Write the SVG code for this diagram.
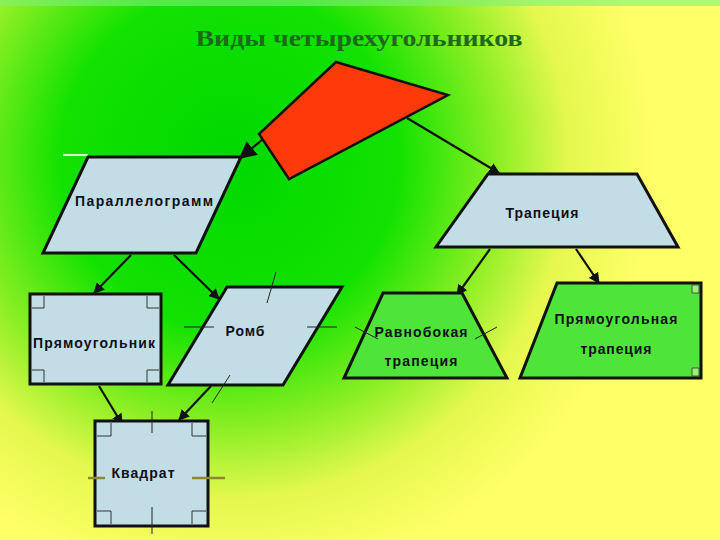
<svg xmlns="http://www.w3.org/2000/svg" width="720" height="540" viewBox="0 0 720 540">
  <defs>
    <radialGradient id="bg" cx="230" cy="160" r="470" gradientUnits="userSpaceOnUse">
      <stop offset="0" stop-color="#00d800"/>
      <stop offset="0.36" stop-color="#12e200"/>
      <stop offset="0.56" stop-color="#86ee22"/>
      <stop offset="0.72" stop-color="#e4f84e"/>
      <stop offset="0.9" stop-color="#ffff66"/>
    </radialGradient>
    <marker id="arr" viewBox="0 0 10 10" refX="9" refY="5" markerWidth="5" markerHeight="5" orient="auto" markerUnits="strokeWidth">
      <path d="M0,0 L10,5 L0,10 z" fill="#111"/>
    </marker>
    <marker id="arrT" viewBox="0 0 10 10" refX="9" refY="5" markerWidth="8" markerHeight="8" orient="auto" markerUnits="strokeWidth">
      <path d="M0,0 L10,5 L0,10 z" fill="#111"/>
    </marker>
  </defs>
  <style>
    .blue { fill: #c3dde6; stroke: #111; stroke-width: 3; }
    .green { fill: #4fe43a; stroke: #111; stroke-width: 3; }
    .corner { fill: none; stroke: #333; stroke-width: 1; }
    .tick { stroke: #222; stroke-width: 1; }
    .olive { stroke: #8c8a30; stroke-width: 2.5; }
    .lbl { font-family: "Liberation Sans", Arial, sans-serif; font-weight: bold; font-size: 14px; fill: #101018; text-anchor: middle; }
    .con { stroke: #111; stroke-width: 2.2; fill: none; }
  </style>
  <rect width="720" height="540" fill="url(#bg)"/>
  <rect width="720" height="6" fill="#7ef07a" opacity="0.6"/>
  <text x="359" y="46" font-family="'Liberation Serif', 'Times New Roman', serif" font-weight="bold" font-size="23" fill="#1d6a1d" text-anchor="middle" textLength="327" lengthAdjust="spacingAndGlyphs">Виды четырехугольников</text>

  <g id="connectors">
    <line class="con" x1="262" y1="140" x2="240" y2="158" stroke-width="1.5" marker-end="url(#arrT)"/>
    <line class="con" x1="407" y1="118" x2="499" y2="173" stroke-width="3" marker-end="url(#arr)"/>
    <line class="con" x1="131" y1="255" x2="94" y2="293" marker-end="url(#arr)"/>
    <line class="con" x1="174" y1="255" x2="219" y2="299" marker-end="url(#arr)"/>
    <line class="con" x1="99" y1="386" x2="122" y2="424" marker-end="url(#arr)"/>
    <line class="con" x1="211" y1="386" x2="179" y2="420" marker-end="url(#arr)"/>
    <line class="con" x1="490" y1="249" x2="457" y2="295" marker-end="url(#arr)"/>
    <line class="con" x1="576" y1="249" x2="599" y2="283" marker-end="url(#arr)"/>
  </g>

  <g id="quad">
    <polygon points="336,62 448,95 289,179 259,134" fill="#ff3a0a" stroke="#111" stroke-width="2.5"/>
  </g>

  <g id="parallelogram">
    <line x1="63" y1="155" x2="88" y2="155" stroke="#d8f5c8" stroke-width="2"/>
    <polygon class="blue" points="88,157 241,157 196,253 43,253"/>
    <text class="lbl" x="144" y="206" textLength="138" lengthAdjust="spacing">Параллелограмм</text>
  </g>

  <g id="trapezoid">
    <polygon class="blue" points="488,174 637,174 678,247 436,247"/>
    <text class="lbl" x="542" y="218" textLength="73" lengthAdjust="spacing">Трапеция</text>
  </g>

  <g id="rectangle">
    <rect class="blue" x="30" y="294" width="131" height="90"/>
    <path class="corner" d="M32,308 H44 V296 M159,308 H147 V296 M32,370 H44 V382 M159,370 H147 V382"/>
    <text class="lbl" x="94" y="348" textLength="122" lengthAdjust="spacing">Прямоугольник</text>
  </g>

  <g id="rhombus">
    <polygon class="blue" points="227,287 342,287 283,385 168,385"/>
    <line class="tick" x1="276" y1="272" x2="267" y2="303"/>
    <line class="tick" x1="230" y1="375" x2="212" y2="403"/>
    <line class="tick" x1="184" y1="327" x2="214" y2="327"/>
    <line class="tick" x1="307" y1="327" x2="337" y2="327"/>
    <text class="lbl" x="245" y="336" textLength="39" lengthAdjust="spacing">Ромб</text>
  </g>

  <g id="isosceles">
    <polygon class="green" points="383,293 462,293 507,378 344,378"/>
    <line class="tick" x1="355" y1="327" x2="378" y2="339"/>
    <line class="tick" x1="475" y1="339" x2="497" y2="327"/>
    <text class="lbl" x="421" y="337" textLength="93" lengthAdjust="spacing">Равнобокая</text>
    <text class="lbl" x="421" y="366" textLength="73" lengthAdjust="spacing">трапеция</text>
  </g>

  <g id="right-trapezoid">
    <polygon class="green" points="557,283 701,283 701,378 520,378"/>
    <path d="M692,285 H699 V293 H692 Z M692,368 H699 V376 H692 Z" fill="#9af07a" stroke="#333" stroke-width="0.8"/>
    <text class="lbl" x="616" y="324" textLength="123" lengthAdjust="spacing">Прямоугольная</text>
    <text class="lbl" x="616" y="354" textLength="71" lengthAdjust="spacing">трапеция</text>
  </g>

  <g id="square">
    <rect class="blue" x="95" y="421" width="113" height="105"/>
    <path class="corner" d="M97,436 H111 V423 M206,436 H192 V423 M97,511 H111 V524 M206,511 H192 V524"/>
    <line class="tick" x1="152" y1="411" x2="152" y2="433"/>
    <line class="tick" x1="152" y1="507" x2="152" y2="534"/>
    <line class="olive" x1="88" y1="478" x2="105" y2="478"/>
    <line class="olive" x1="192" y1="478" x2="225" y2="478"/>
    <text class="lbl" x="143" y="478" textLength="63" lengthAdjust="spacing">Квадрат</text>
  </g>
</svg>
